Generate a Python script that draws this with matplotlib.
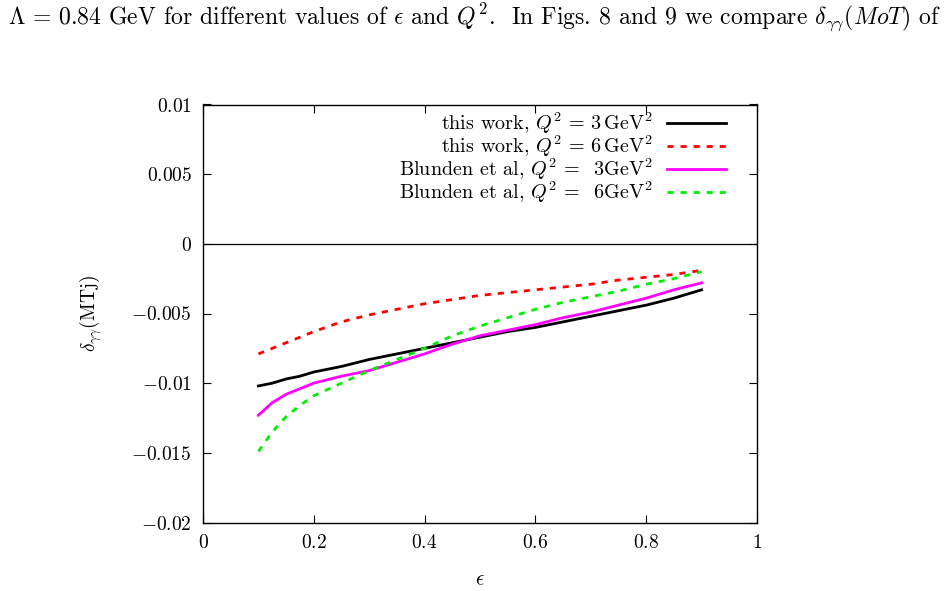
import matplotlib
matplotlib.use("Agg")
import matplotlib.pyplot as plt
import numpy as np

plt.rcParams['mathtext.fontset'] = 'cm'
plt.rcParams['font.family'] = ['cmr10', 'DejaVu Serif']
plt.rcParams['axes.unicode_minus'] = False
plt.rcParams['axes.formatter.use_mathtext'] = True

eps = [0.1, 0.125, 0.15, 0.175, 0.2, 0.25, 0.3, 0.35, 0.4, 0.45, 0.5,
       0.55, 0.6, 0.65, 0.7, 0.75, 0.8, 0.85, 0.9]
this_q3 = [-0.0102, -0.0100, -0.0097, -0.0095, -0.0092, -0.0088, -0.0083, -0.0079,
           -0.0075, -0.0071, -0.0067, -0.0063, -0.0060, -0.0056, -0.0052, -0.0048,
           -0.0044, -0.0039, -0.0033]
this_q6 = [-0.0079, -0.0075, -0.0071, -0.0067, -0.0063, -0.0056, -0.0051, -0.0047,
           -0.0043, -0.0040, -0.0037, -0.0035, -0.0033, -0.0031, -0.0029, -0.0026,
           -0.0024, -0.0022, -0.0019]
blunden_q3 = [-0.0123, -0.0114, -0.0108, -0.0104, -0.0100, -0.0095, -0.0091, -0.0085,
              -0.0079, -0.0072, -0.0066, -0.0062, -0.0058, -0.0053, -0.0049, -0.0044,
              -0.0039, -0.0033, -0.0028]
blunden_q6 = [-0.0149, -0.0135, -0.0124, -0.0116, -0.0109, -0.0100, -0.0091, -0.0083,
              -0.0075, -0.0066, -0.0059, -0.0053, -0.0047, -0.0042, -0.0038, -0.0034,
              -0.0029, -0.0025, -0.0020]

labels = [r'this work, $Q^2\,=\,3\,\mathrm{GeV}^2$',
          r'this work, $Q^2\,=\,6\,\mathrm{GeV}^2$',
          r'Blunden et al, $Q^2\,=\;\ 3\mathrm{GeV}^2$',
          r'Blunden et al, $Q^2\,=\;\ 6\mathrm{GeV}^2$']

xticks = [0, 0.2, 0.4, 0.6, 0.8, 1]
xticklabels = ['$0$', '$0.2$', '$0.4$', '$0.6$', '$0.8$', '$1$']
yticks = [0.01, 0.005, 0, -0.005, -0.01, -0.015, -0.02]
yticklabels = ['$0.01$', '$0.005$', '$0$', r'$-0.005$', r'$-0.01$', r'$-0.015$', r'$-0.02$']

fig = plt.figure(figsize=(9.46, 5.91), dpi=100)
ax = fig.add_axes([203/946, 1-522.5/591, (757-203)/946, (522.5-104.5)/591])

ax.axhline(0, color='black', lw=0.9, zorder=1)
ax.plot(eps, this_q3, color='black', lw=2.0, label=labels[0])
ax.plot(eps, this_q6, color='#ff0000', lw=2.0, dashes=(2.2, 2.5), label=labels[1])
ax.plot(eps, blunden_q3, color='#ff00ff', lw=2.0, label=labels[2])
ax.plot(eps, blunden_q6, color='#00ee00', lw=2.0, dashes=(2.2, 2.5), label=labels[3])

ax.set_xlim(0, 1)
ax.set_ylim(-0.02, 0.01)
ax.set_xticks(xticks)
ax.set_xticklabels(xticklabels, fontsize=14)
ax.set_yticks(yticks)
ax.set_yticklabels(yticklabels, fontsize=14)
ax.tick_params(direction='in', top=True, right=True, length=6, width=0.8, pad=8)
for s in ax.spines.values():
    s.set_linewidth(1.0)

ax.set_xlabel(r'$\epsilon$', fontsize=15, labelpad=14)
ax.set_ylabel(r'$\delta_{\gamma\gamma}$(MTj)', fontsize=14, labelpad=20)

leg = ax.legend(loc='upper right', frameon=False, fontsize=14.5, markerfirst=False,
                handlelength=2.9, handletextpad=0.7, labelspacing=-0.12, borderaxespad=0.2,
                bbox_to_anchor=(0.965, 1.015), alignment='right')
for t in leg.get_texts():
    t.set_ha('right')

fig.text(8/946, 1-17/591,
         r'$\Lambda\,=\,0.84$ GeV for different values of $\epsilon$ and $Q^2$.  In Figs. 8 and 9 we compare $\delta_{\gamma\gamma}(MoT)$ of',
         fontsize=17.1, va='center', ha='left')

fig.savefig('out.png', dpi=100)
